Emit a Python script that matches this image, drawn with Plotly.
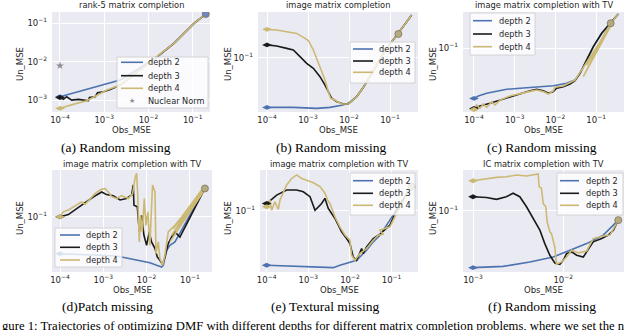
import plotly.graph_objects as go

W, H = 640, 330
BLUE, BLACK, GOLD = "#4C72B0", "#1A1A1A", "#CCB974"
INK = "#262626"
SANS = "DejaVu Sans"
SERIF = "Liberation Serif"

# ---------------- data (Obs_MSE, Un_MSE) ----------------
# (a) rank-5 matrix completion
a_d2_x = [1e-4, 2.3e-3, 6e-3, 1.6e-2, 3.8e-2, 0.107, 0.197]
a_d2_y = [1.22e-3, 3.3e-3, 6.5e-3, 1.35e-2, 3.0e-2, 0.098, 0.171]
a_d3_x = [1e-4, 1.19e-4, 1.42e-4, 1.84e-4, 2.61e-4, 4.4e-4, 4.64e-4, 6.24e-4, 7.05e-4,
          9.66e-4, 1.37e-3, 2.31e-3, 1.58e-2, 3.77e-2, 0.107, 0.197]
a_d3_y = [1.17e-3, 1.04e-3, 1.22e-3, 1.0e-3, 1.04e-3, 9.6e-4, 1.17e-3, 1.22e-3, 1.55e-3,
          1.64e-3, 1.89e-3, 2.45e-3, 1.34e-2, 2.96e-2, 9.8e-2, 0.171]
a_d4_x = [1e-4, 1.42e-4, 2.39e-4, 4.04e-4, 6.8e-4, 1.15e-3, 2.31e-3, 1.58e-2, 3.77e-2, 0.107, 0.197]
a_d4_y = [6.1e-4, 7.0e-4, 8.2e-4, 9.6e-4, 1.35e-3, 1.82e-3, 2.45e-3, 1.34e-2, 2.96e-2, 9.8e-2, 0.171]
a_nuc_x = [1e-4]
a_nuc_y = [7.8e-3]

# (b) image matrix completion
b_d2_x = [1e-4, 4.38e-4, 1.63e-3, 3.44e-3, 6.62e-3, 9.64e-3, 1.54e-2, 2.24e-2, 3.25e-2,
          4.73e-2, 6.87e-2, 0.110, 0.160, 0.232, 0.338]
b_d2_y = [0.0356, 0.0356, 0.0349, 0.0356, 0.0372, 0.0387, 0.0445, 0.054, 0.0673,
          0.0857, 0.109, 0.139, 0.165, 0.200, 0.242]
b_d3_x = [1e-4, 1.72e-4, 3.02e-4, 4.38e-4, 6.38e-4, 9.27e-4, 1.35e-3, 1.96e-3, 2.60e-3,
          3.13e-3, 3.78e-3, 5.0e-3, 7.28e-3, 9.64e-3, 1.54e-2, 2.24e-2, 3.25e-2, 4.73e-2,
          6.87e-2, 0.110, 0.160, 0.232, 0.338]
b_d3_y = [0.130, 0.127, 0.121, 0.117, 0.102, 0.0887, 0.080, 0.0673, 0.0566,
          0.0493, 0.043, 0.0401, 0.0382, 0.0382, 0.0445, 0.054, 0.0673, 0.0857,
          0.109, 0.139, 0.165, 0.200, 0.242]
b_d4_x = [1e-4, 1.72e-4, 3.02e-4, 5.3e-4, 8.45e-4, 1.02e-3, 1.35e-3, 1.63e-3, 2.15e-3,
          2.60e-3, 3.13e-3, 3.57e-3, 4.56e-3, 6.62e-3, 9.64e-3, 1.54e-2, 2.24e-2, 3.25e-2,
          4.73e-2, 6.87e-2, 0.110, 0.160, 0.232, 0.338]
b_d4_y = [0.1795, 0.177, 0.171, 0.165, 0.149, 0.142, 0.117, 0.0984, 0.0773,
          0.0628, 0.0493, 0.043, 0.0415, 0.0382, 0.0382, 0.0445, 0.054, 0.0673,
          0.0857, 0.109, 0.139, 0.165, 0.200, 0.242]

# (c) image matrix completion with TV, random missing
c_d2_x = [1e-4, 1.28e-4, 2.05e-4, 3.61e-4, 6.35e-4, 1.35e-3, 3.47e-3, 8.89e-3, 1.89e-2,
          3.03e-2, 4.02e-2, 5.86e-2, 8.55e-2, 0.137, 0.228, 0.351]
c_d2_y = [0.0352, 0.037, 0.0391, 0.041, 0.0425, 0.0434, 0.0443, 0.0458, 0.0481,
          0.0515, 0.0592, 0.078, 0.103, 0.1355, 0.167, 0.202]
c_d3_x = [1e-4, 1.40e-4, 2.47e-4, 4.36e-4, 7.67e-4, 1.35e-3, 2.38e-3, 3.47e-3, 5.06e-3,
          6.70e-3, 8.89e-3, 1.07e-2, 1.57e-2, 2.29e-2, 3.03e-2, 4.02e-2, 5.86e-2, 8.55e-2,
          0.137, 0.228, 0.351]
c_d3_y = [0.0286, 0.0301, 0.0318, 0.034, 0.0365, 0.0391, 0.0413, 0.0425, 0.0413,
          0.0391, 0.0405, 0.0434, 0.0449, 0.0474, 0.0508, 0.0592, 0.078, 0.103,
          0.1355, 0.167, 0.202]
c_d4_x = [1e-4, 1.16e-4, 1.40e-4, 1.69e-4, 2.05e-4, 2.72e-4, 3.28e-4, 4.36e-4, 7.67e-4,
          1.35e-3, 2.38e-3, 3.47e-3, 5.06e-3, 6.70e-3, 8.89e-3, 9.77e-3, 1.57e-2, 3.03e-2,
          0.241, 4.85e-2, 0.182, 5.86e-2, 0.228, 0.351]
c_d4_y = [0.028, 0.0307, 0.0286, 0.0313, 0.0292, 0.0329, 0.0307, 0.034, 0.037,
          0.0385, 0.0407, 0.0419, 0.0405, 0.0385, 0.0413, 0.0443, 0.0455, 0.0515,
          0.164, 0.0552, 0.145, 0.0703, 0.167, 0.202]

# (d) image matrix completion with TV, patch missing
d_d2_x = [1e-4, 3.45e-4, 8.37e-4, 2.03e-3, 4.12e-3, 7.02e-3, 1.19e-2, 1.70e-2, 2.22e-2,
          2.43e-2, 2.65e-2, 2.90e-2, 3.45e-2, 4.51e-2, 0.222]
d_d2_y = [0.0494, 0.0489, 0.048, 0.0473, 0.045, 0.0436, 0.0416, 0.0396, 0.0383,
          0.0396, 0.045, 0.0527, 0.058, 0.062, 0.172]
d_d3_x = [1e-4, 1.56e-4, 2.43e-4, 3.45e-4, 4.92e-4, 7.02e-4, 9.16e-4, 1.19e-3, 1.70e-3,
          2.43e-3, 3.45e-3, 4.51e-3, 4.92e-3, 5.10e-3, 6.10e-3, 6.78e-3, 7.67e-3, 8.67e-3,
          1.0e-2, 1.15e-2, 1.30e-2, 1.56e-2, 1.76e-2, 2.03e-2, 2.34e-2, 2.65e-2, 3.16e-2,
          3.78e-2, 4.51e-2, 5.87e-2, 0.222]
d_d3_y = [0.1, 0.1045, 0.117, 0.129, 0.140, 0.152, 0.161, 0.153, 0.150,
          0.138, 0.142, 0.152, 0.184, 0.125, 0.121, 0.075, 0.103, 0.0703,
          0.058, 0.075, 0.062, 0.0545, 0.0465, 0.0436, 0.0401, 0.0465, 0.060,
          0.068, 0.075, 0.068, 0.172]
d_d4_x = [1e-4, 1.19e-4, 1.56e-4, 2.03e-4, 2.43e-4, 3.16e-4, 3.78e-4, 4.92e-4, 6.43e-4,
          8.37e-4, 1.09e-3, 1.30e-3, 1.56e-3, 2.03e-3, 2.65e-3, 3.78e-3, 4.75e-3, 5.38e-3,
          5.88e-3, 6.19e-3, 6.43e-3, 6.78e-3, 7.28e-3, 7.94e-3, 8.84e-3, 9.66e-3, 1.07e-2,
          1.19e-2, 1.37e-2, 1.56e-2, 1.64e-2, 1.86e-2, 2.03e-2, 2.34e-2, 2.65e-2, 3.16e-2,
          4.51e-2, 0.222, 3.45e-2, 0.203, 3.78e-2, 0.186, 4.12e-2, 0.222]
d_d4_y = [0.1, 0.110, 0.114, 0.121, 0.127, 0.133, 0.127, 0.142, 0.156,
          0.167, 0.172, 0.161, 0.147, 0.142, 0.150, 0.142, 0.156, 0.208,
          0.230, 0.161, 0.097, 0.062, 0.103, 0.075, 0.142, 0.085, 0.110,
          0.058, 0.184, 0.161, 0.0494, 0.062, 0.045, 0.0396, 0.048, 0.075,
          0.085, 0.172, 0.062, 0.161, 0.0703, 0.167, 0.080, 0.172]

# (e) image matrix completion with TV, textural missing
e_d2_x = [1e-4, 4.37e-4, 1.91e-3, 3.98e-3, 5.75e-3, 1e-2, 1.45e-2, 1.91e-2, 2.51e-2,
          3.63e-2, 5.25e-2, 9.12e-2, 0.302]
e_d2_y = [0.0352, 0.0344, 0.0336, 0.0336, 0.0352, 0.0375, 0.0387, 0.0426, 0.0469,
          0.0551, 0.0627, 0.0836, 0.159]
e_d3_x = [1e-4, 1.74e-4, 3.02e-4, 5.25e-4, 7.59e-4, 1.10e-3, 1.45e-3, 2.09e-3, 2.51e-3,
          3.02e-3, 4.37e-3, 6.31e-3, 8.32e-3, 1e-2, 1.20e-2, 1.45e-2, 1.91e-2, 2.09e-2,
          2.51e-2, 3.63e-2, 5.25e-2, 9.12e-2, 0.132, 0.302]
e_d3_y = [0.115, 0.135, 0.149, 0.149, 0.144, 0.131, 0.101, 0.115, 0.127,
          0.1045, 0.0863, 0.0667, 0.0587, 0.0533, 0.0412, 0.0387, 0.0484, 0.044,
          0.050, 0.0587, 0.0638, 0.0759, 0.101, 0.159]
e_d4_x = [1e-4, 1.2e-4, 1.32e-4, 1.58e-4, 1.91e-4, 2.09e-4, 3.02e-4, 3.98e-4, 5.25e-4,
          6.92e-4, 9.12e-4, 1.32e-3, 1.91e-3, 2.51e-3, 2.86e-3, 3.31e-3, 4.37e-3, 5.75e-3,
          7.59e-3, 1e-2, 1.10e-2, 1.32e-2, 1.74e-2, 2.51e-2, 3.63e-2, 4.79e-2, 6.31e-2,
          5.25e-2, 9.12e-2, 0.132, 0.302]
e_d4_y = [0.108, 0.123, 0.101, 0.119, 0.1026, 0.123, 0.164, 0.186, 0.199,
          0.186, 0.180, 0.171, 0.159, 0.140, 0.1245, 0.115, 0.0891, 0.0735,
          0.0627, 0.0569, 0.0426, 0.0387, 0.044, 0.0484, 0.0569, 0.0627, 0.0638,
          0.0689, 0.0735, 0.095, 0.159]

# (f) IC matrix completion with TV, random missing
f_d2_x = [1e-3, 2.15e-3, 4.27e-3, 7.74e-3, 1.19e-2, 1.82e-2, 2.78e-2, 4.08e-2]
f_d2_y = [0.0336, 0.0344, 0.0375, 0.0412, 0.0469, 0.0533, 0.0627, 0.0836]
f_d3_x = [1e-3, 1.41e-3, 1.82e-3, 2.34e-3, 2.78e-3, 3.30e-3, 3.92e-3, 4.64e-3, 5.51e-3,
          6.25e-3, 7.11e-3, 8.07e-3, 9.18e-3, 1e-2, 1.09e-2, 1.24e-2, 1.41e-2, 1.67e-2,
          1.90e-2, 2.15e-2, 2.67e-2, 3.16e-2, 3.60e-2, 4.08e-2]
f_d3_y = [0.131, 0.129, 0.1245, 0.131, 0.140, 0.131, 0.108, 0.0863, 0.0689,
          0.0533, 0.0426, 0.0367, 0.0358, 0.0387, 0.044, 0.0454, 0.0426, 0.0412,
          0.0484, 0.0551, 0.0587, 0.0627, 0.0689, 0.0836]
f_d4_x = [1e-3, 1.41e-3, 1.82e-3, 2.34e-3, 3.03e-3, 3.92e-3, 4.64e-3, 5.27e-3, 5.41e-3,
          5.74e-3, 6.0e-3, 6.41e-3, 6.64e-3, 7.11e-3, 7.41e-3, 7.74e-3, 8.07e-3, 8.43e-3,
          9.58e-3, 1.09e-2, 1.24e-2, 1.47e-2, 1.82e-2, 2.15e-2, 2.67e-2, 3.30e-2, 4.08e-2]
f_d4_y = [0.178, 0.186, 0.190, 0.192, 0.199, 0.195, 0.199, 0.203, 0.159,
          0.154, 0.115, 0.108, 0.081, 0.0667, 0.0646, 0.0569, 0.050, 0.0358,
          0.0375, 0.0412, 0.0469, 0.0446, 0.0463, 0.0587, 0.0614, 0.0627, 0.0836]

# initialisation points (circle markers)
init_x = [0.197, 0.160, 0.228, 0.222, 0.302, 4.08e-2]
init_y = [0.171, 0.163, 0.167, 0.172, 0.159, 0.0836]

depth_names = ["depth 2", "depth 3", "depth 4"]
titles = ["rank-5 matrix completion", "image matrix completion",
          "image matrix completion with TV", "image matrix completion with TV",
          "image matrix completion with TV", "IC matrix completion with TV"]
captions = ["(a) Random missing", "(b) Random missing", "(c) Random missing",
            "(d)Patch missing", "(e) Textural missing", "(f) Random missing"]
figure_caption = ("gure 1: Trajectories of optimizing DMF with different depths for "
                  "different matrix completion problems, where we set the n")

series = [
    [(a_d2_x, a_d2_y), (a_d3_x, a_d3_y), (a_d4_x, a_d4_y)],
    [(b_d2_x, b_d2_y), (b_d3_x, b_d3_y), (b_d4_x, b_d4_y)],
    [(c_d2_x, c_d2_y), (c_d3_x, c_d3_y), (c_d4_x, c_d4_y)],
    [(d_d2_x, d_d2_y), (d_d3_x, d_d3_y), (d_d4_x, d_d4_y)],
    [(e_d2_x, e_d2_y), (e_d3_x, e_d3_y), (e_d4_x, e_d4_y)],
    [(f_d2_x, f_d2_y), (f_d3_x, f_d3_y), (f_d4_x, f_d4_y)],
]

dec_vals = [1e-4, 1e-3, 1e-2, 1e-1]
dec_text = ["10<sup>−4</sup>", "10<sup>−3</sup>", "10<sup>−2</sup>", "10<sup>−1</sup>"]

# ---------------- layout geometry (pixels) ----------------
colors = [BLUE, BLACK, GOLD]
frames = [(52, 210, 12, 112), (258, 418, 12, 112), (463, 624, 12, 112),
          (52, 212, 170, 272), (260, 418, 170, 272), (463, 624, 170, 272)]
xranges = [(-4.18, -0.61), (-4.22, -0.317), (-4.27, -0.315),
           (-4.185, -0.49), (-4.16, -0.365), (-3.111, -1.326)]
yranges = [(-3.31, -0.714), (-1.49, -0.59), (-1.576, -0.676),
           (-1.458, -0.611), (-1.51, -0.66), (-1.51, -0.66)]
ylabel_x = [20, 228, 433, 20, 228, 433]
caption_x = [116, 331, 542, 107, 325, 542]
# legend: box (x0, y0, x1, y1), row ys, sample x0, x1, text x
legends = [
    ((117, 57, 208, 108), [62.3, 75.7, 88.3, 100.5], 121, 143, 146),
    ((350, 42, 415, 83), [49, 61, 72.3], 353, 373, 377),
    ((470, 13, 535, 55), [20.7, 34, 46.7], 473, 492, 497),
    ((55, 228, 122, 267), [235, 247.3, 260], 60, 80, 84),
    ((350, 173, 415, 215), [180.7, 193.3, 205.3], 353, 373, 377),
    ((557, 173, 623, 215), [180.7, 193.3, 205.3], 560, 579, 584),
]


def fx(px):
    return px / W


def fy(py):
    return 1 - py / H


def label(text, px, py, size, family=SANS, color=INK, anchor="center", angle=0):
    return dict(text=text, x=fx(px), y=fy(py), xref="paper", yref="paper",
                xanchor=anchor, yanchor="middle", showarrow=False, textangle=angle,
                font=dict(family=family, size=size, color=color))


fig = go.Figure()
shapes, annotations = [], []

for i in range(6):
    n = "" if i == 0 else str(i + 1)
    xa, ya = "x" + n, "y" + n
    x0, x1, y0, y1 = frames[i]
    row2 = i >= 3

    for k, (xs, ys) in enumerate(series[i]):
        fig.add_trace(go.Scatter(x=xs, y=ys, mode="lines", xaxis=xa, yaxis=ya,
                                 line=dict(color=colors[k], width=1.6)))
    for k, (xs, ys) in enumerate(series[i]):
        fig.add_trace(go.Scatter(x=xs[:1], y=ys[:1], mode="markers", xaxis=xa, yaxis=ya,
                                 marker=dict(symbol="diamond-wide", size=7, color=colors[k])))
    fig.add_trace(go.Scatter(x=init_x[i:i + 1], y=init_y[i:i + 1], mode="markers",
                             xaxis=xa, yaxis=ya,
                             marker=dict(size=7, color="#B5AB82" if i else "#6F86C0",
                                         line=dict(color="#7C7457", width=0.8))))
    if i == 0:
        fig.add_trace(go.Scatter(x=a_nuc_x, y=a_nuc_y, mode="markers", xaxis=xa, yaxis=ya,
                                 marker=dict(symbol="star", size=6, color="#8C8C8C")))

    if i == 5:
        tv, tt = dec_vals[1:3], dec_text[1:3]
    else:
        tv, tt = dec_vals, dec_text
    yv = dec_vals[1:] if i == 0 else dec_vals[3:]
    yt = dec_text[1:] if i == 0 else dec_text[3:]

    axis_common = dict(type="log", showline=False, ticks="", zeroline=False,
                       gridcolor="white", gridwidth=1, automargin=False,
                       tickfont=dict(family=SANS, size=8.5, color=INK))
    fig.layout["xaxis" + n] = dict(axis_common, domain=[fx(x0), fx(x1)], anchor=ya,
                                   range=list(xranges[i]), tickvals=tv, ticktext=tt,
                                   ticklabelstandoff=1)
    fig.layout["yaxis" + n] = dict(axis_common, domain=[fy(y1), fy(y0)], anchor=xa,
                                   range=list(yranges[i]), tickvals=yv, ticktext=yt,
                                   ticklabelstandoff=4)

    cx = (x0 + x1) / 2
    annotations.append(label(titles[i], cx, 164 if row2 else 5, 8.3))
    annotations.append(label("Obs_MSE", cx, 290 if row2 else 130, 8.5))
    annotations.append(label("Un_MSE", ylabel_x[i], 218 if row2 else 64, 8.5, angle=-90))
    annotations.append(label(captions[i], caption_x[i], 306 if row2 else 147, 13.5,
                             family=SERIF, color="black"))

    # legend drawn by hand (compact, like matplotlib)
    (bx0, by0, bx1, by1), rows, sx0, sx1, tx = legends[i]
    shapes.append(dict(type="rect", xref="paper", yref="paper", layer="above",
                       x0=fx(bx0), x1=fx(bx1), y0=fy(by1), y1=fy(by0),
                       fillcolor="rgba(255,255,255,0.8)", line=dict(color="#CCCCCC", width=0.8)))
    labels = depth_names + (["Nuclear Norm"] if i == 0 else [])
    for k, lab in enumerate(labels):
        ry = rows[k]
        if k < 3:
            shapes.append(dict(type="line", xref="paper", yref="paper", layer="above",
                               x0=fx(sx0), x1=fx(sx1), y0=fy(ry), y1=fy(ry),
                               line=dict(color=colors[k], width=1.6)))
        else:
            annotations.append(label("★", (sx0 + sx1) / 2, ry, 7, color="#8C8C8C"))
        annotations.append(label(lab, tx, ry, 8.2, anchor="left"))

annotations.append(label(figure_caption, 0, 326, 12.7, family=SERIF, color="black",
                         anchor="left"))

fig.update_layout(
    width=W, height=H,
    margin=dict(l=0, r=0, t=0, b=0, autoexpand=False),
    paper_bgcolor="white",
    plot_bgcolor="#EAEAF2",
    showlegend=False,
    hovermode=False,
    shapes=shapes,
    annotations=annotations,
)

# drop the browser's default 8px body margin so the figure sits at the page corner
fig.write_html("out.html", config={"displayModeBar": False},
               post_script="document.body.style.margin = '0';")
